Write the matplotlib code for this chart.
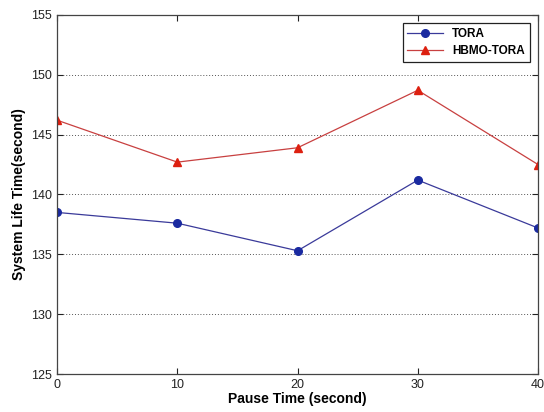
import matplotlib
matplotlib.use("Agg")
import matplotlib.pyplot as plt

pause_time = [0, 10, 20, 30, 40]
tora = [138.5, 137.6, 135.3, 141.2, 137.2]
hbmo_tora = [146.2, 142.7, 143.9, 148.7, 142.5]
x_ticks = [0, 10, 20, 30, 40]
y_ticks = [125, 130, 135, 140, 145, 150, 155]

plt.rcParams['font.family'] = ['Liberation Sans', 'DejaVu Sans']
fig = plt.figure(figsize=(5.44, 4.12), dpi=100)
ax = fig.add_axes([0.105, 0.092, 0.884, 0.872])

ax.plot(pause_time, tora, color='#3a3a9a', lw=0.9, marker='o', ms=5.5,
        markerfacecolor='#1a2aa0', markeredgecolor='#1a2aa0', label='TORA')
ax.plot(pause_time, hbmo_tora, color='#c84040', lw=0.9, marker='^', ms=6,
        markerfacecolor='#dd2010', markeredgecolor='#dd2010', label='HBMO-TORA')

ax.set_xlim(0, 40)
ax.set_ylim(125, 155)
ax.set_xticks(x_ticks)
ax.set_yticks(y_ticks)
ax.yaxis.grid(True, linestyle=(0, (1, 2)), color='#555555', lw=0.7)
ax.tick_params(direction='in', top=True, right=True, labelsize=9, length=4, colors='#222222')
for s in ax.spines.values():
    s.set_color('#444444')
    s.set_linewidth(0.9)

ax.set_xlabel('Pause Time (second)', fontsize=10, fontweight='bold', labelpad=1)
ax.set_ylabel('System Life Time(second)', fontsize=10, fontweight='bold', labelpad=4)

leg = ax.legend(loc='upper right', prop={'weight': 'bold', 'size': 8.5},
                fancybox=False, framealpha=1, edgecolor='#222222',
                borderaxespad=0.7, handlelength=3, labelspacing=0.45)
leg.get_frame().set_linewidth(0.9)

fig.savefig('out.png', dpi=100)
